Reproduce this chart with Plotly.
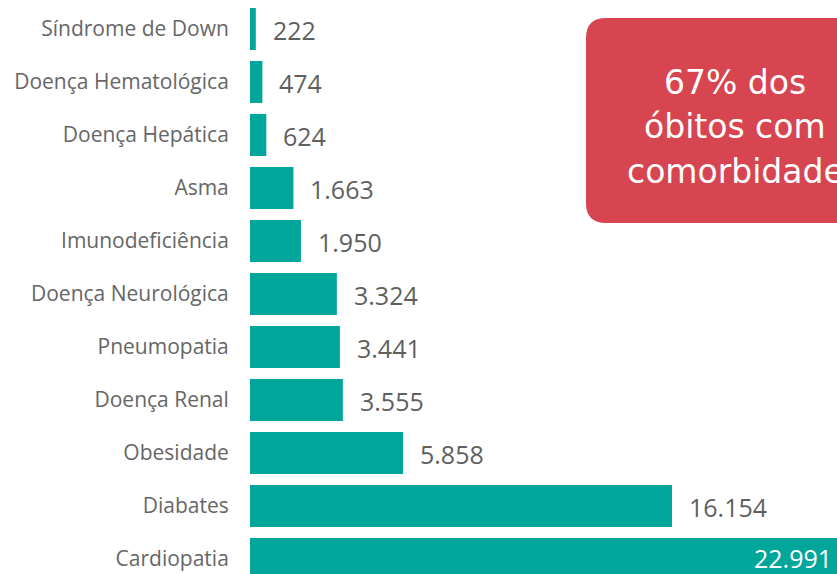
import plotly.graph_objects as go

categories = ["Síndrome de Down", "Doença Hematológica", "Doença Hepática", "Asma",
              "Imunodeficiência", "Doença Neurológica", "Pneumopatia", "Doença Renal",
              "Obesidade", "Diabates", "Cardiopatia"]
values = [222, 474, 624, 1663, 1950, 3324, 3441, 3555, 5858, 16154, 22991]
callout_lines = ["67% dos", "óbitos com", "comorbidade"]

BAR = "#00A69A"
W, H = 837, 574
ml = 250
pw, ph = W - ml, H
px_per_unit = 422 / 16154
xmax = pw / px_per_unit
row = 53.0
top_val = -0.5 - 2.5 / row
span = ph / row

def fmt(v):
    return f"{v:,}".replace(",", ".")

fig = go.Figure(go.Bar(
    x=values, y=list(range(len(categories))), orientation="h",
    marker=dict(color=BAR, line=dict(width=0)),
    width=42 / row, hoverinfo="skip"))

annotations = []
for i, v in enumerate(values):
    if v > xmax:
        # bar runs past the visible edge: label sits inside, at the visible end
        annotations.append(dict(x=min(v, xmax), y=i, xref="x", yref="y", text=fmt(v),
                                showarrow=False, xanchor="right", xshift=-3, yshift=1,
                                font=dict(family="Open Sans", size=25, color="white")))
    else:
        annotations.append(dict(x=v, y=i, xref="x", yref="y", text=fmt(v), showarrow=False,
                                xanchor="left", xshift=15, yshift=-1,
                                font=dict(family="Open Sans", size=25, color="#5f5f5f")))

def px2paper(x, y):
    return (x - ml) / pw, (H - y) / ph

x0, x1, y0, y1, r = 586, 900, 18, 223, 20
def P(x, y):
    a, b = px2paper(x, y)
    return f"{a:.5f},{b:.5f}"
path = (f"M {P(x0 + r, y0)} L {P(x1 - r, y0)} Q {P(x1, y0)} {P(x1, y0 + r)} "
        f"L {P(x1, y1 - r)} Q {P(x1, y1)} {P(x1 - r, y1)} L {P(x0 + r, y1)} "
        f"Q {P(x0, y1)} {P(x0, y1 - r)} L {P(x0, y0 + r)} Q {P(x0, y0)} {P(x0 + r, y0)} Z")

shapes = [dict(type="path", xref="paper", yref="paper", path=path,
               fillcolor="#D64550", line=dict(width=0), layer="above")]

for line, yc in zip(callout_lines, [82, 127, 171]):
    ax, ay = px2paper(735, yc)
    annotations.append(dict(x=ax, y=ay, xref="paper", yref="paper", text=line, showarrow=False,
                            xanchor="center", yanchor="middle",
                            font=dict(family="DejaVu Sans", size=33, color="white")))

fig.update_layout(
    width=W, height=H, margin=dict(l=ml, r=0, t=0, b=0),
    plot_bgcolor="white", paper_bgcolor="white", showlegend=False,
    xaxis=dict(range=[0, xmax], visible=False, fixedrange=True),
    yaxis=dict(range=[top_val + span, top_val], tickmode="array",
               tickvals=list(range(len(categories))), ticktext=categories,
               showgrid=False, zeroline=False, showline=False, fixedrange=True,
               ticks="outside", ticklen=16, tickcolor="rgba(0,0,0,0)",
               tickfont=dict(family="Open Sans", size=21, color="#666666")),
    annotations=annotations, shapes=shapes,
)
fig.write_html("out.html", config={"displayModeBar": False},
               post_script="document.body.style.margin='0';document.body.style.overflow='hidden';")
